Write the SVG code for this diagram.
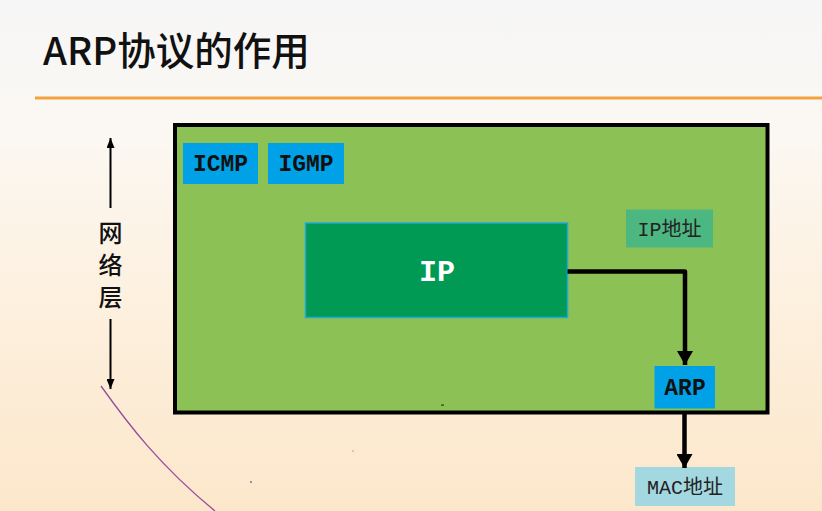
<svg xmlns="http://www.w3.org/2000/svg" width="822" height="511" viewBox="0 0 822 511">
  <defs>
    <linearGradient id="bg" x1="0" y1="0" x2="0" y2="1">
      <stop offset="0" stop-color="#f6f6f6"/>
      <stop offset="0.25" stop-color="#fbf8f3"/>
      <stop offset="0.6" stop-color="#fdf0de"/>
      <stop offset="1" stop-color="#fce7cb"/>
    </linearGradient>
    <marker id="headBig" viewBox="0 0 14 16" refX="14" refY="8" markerWidth="14" markerHeight="16" markerUnits="userSpaceOnUse" orient="auto">
      <path d="M0,0 L14,8 L0,16 Z" fill="#000"/>
    </marker>
    <marker id="headSmall" viewBox="0 0 10 8" refX="10" refY="4" markerWidth="10" markerHeight="8" markerUnits="userSpaceOnUse" orient="auto">
      <path d="M0,0 L10,4 L0,8 Z" fill="#000"/>
    </marker>
    <style>
      .title { font-family: "Noto Sans CJK SC", "Noto Sans", sans-serif; font-size: 38.5px; font-weight: 500; fill: #111; }
      .proto { font-family: "Liberation Mono", "DejaVu Sans Mono", monospace; font-weight: bold; font-size: 23px; fill: #111; text-anchor: middle; }
      .addr { font-family: "Liberation Mono", "Noto Sans CJK SC", monospace; font-size: 20px; fill: #222; text-anchor: middle; }
      .layer { font-family: "Noto Sans CJK SC", sans-serif; font-size: 24px; font-weight: 500; fill: #111; text-anchor: middle; }
      .blue { fill: #00a1e6; }
      .link { fill: none; stroke: #000; stroke-width: 4.5; }
    </style>
  </defs>

  <!-- slide background -->
  <rect width="822" height="511" fill="url(#bg)"/>

  <!-- heading and rule -->
  <text class="title" x="43" y="65">ARP协议的作用</text>
  <rect x="35" y="96.5" width="787" height="3" fill="#f4a23f"/>

  <!-- network layer side marker -->
  <g id="layer-marker">
    <line x1="110.5" y1="208" x2="110.5" y2="138" stroke="#000" stroke-width="2" marker-end="url(#headSmall)"/>
    <line x1="110.5" y1="319" x2="110.5" y2="389" stroke="#000" stroke-width="2" marker-end="url(#headSmall)"/>
    <text class="layer" x="110.5" y="242">网</text>
    <text class="layer" x="110.5" y="274">络</text>
    <text class="layer" x="110.5" y="306">层</text>
  </g>

  <!-- network layer frame -->
  <g id="network-layer">
    <rect x="175" y="125" width="592.5" height="287.5" fill="#8cc155" stroke="#000" stroke-width="4"/>
  </g>

  <g id="icmp">
    <rect class="blue" x="183" y="143" width="75" height="41"/>
    <text class="proto" x="220.5" y="171">ICMP</text>
  </g>

  <g id="igmp">
    <rect class="blue" x="268" y="143" width="76" height="41"/>
    <text class="proto" x="306" y="171">IGMP</text>
  </g>

  <g id="ip">
    <rect x="305.5" y="223" width="262" height="94.5" fill="#009a54" stroke="#22a8d6" stroke-width="1.5"/>
    <text class="proto" x="437" y="281" style="font-size:30px; fill:#fff">IP</text>
  </g>

  <g id="ip-address">
    <rect x="626" y="209.5" width="87" height="38" fill="#4db782"/>
    <text class="addr" x="669.5" y="235.5">IP地址</text>
  </g>

  <g id="arp">
    <rect class="blue" x="654.5" y="366" width="60.5" height="42.5"/>
    <text class="proto" x="685" y="395">ARP</text>
  </g>

  <g id="mac-address">
    <rect x="635" y="467" width="100" height="39" fill="#a3d8e0"/>
    <text class="addr" x="685" y="494">MAC地址</text>
  </g>

  <!-- connectors -->
  <g id="connectors">
    <path class="link" d="M567.5,271.5 H685 V365" stroke-linejoin="round" marker-end="url(#headBig)"/>
    <path class="link" d="M684.5,412 V468" marker-end="url(#headBig)"/>
  </g>

  <!-- pen strokes -->
  <path d="M101,386 C128,424 160,466 215,511" fill="none" stroke="#9a4c9c" stroke-width="1.3"/>
  <circle cx="251" cy="482" r="0.9" fill="#9a4c9c"/>
  <circle cx="353" cy="451" r="0.8" fill="#c08ab8"/>
  <rect x="441" y="404.5" width="3" height="1.2" fill="#333"/>
</svg>
